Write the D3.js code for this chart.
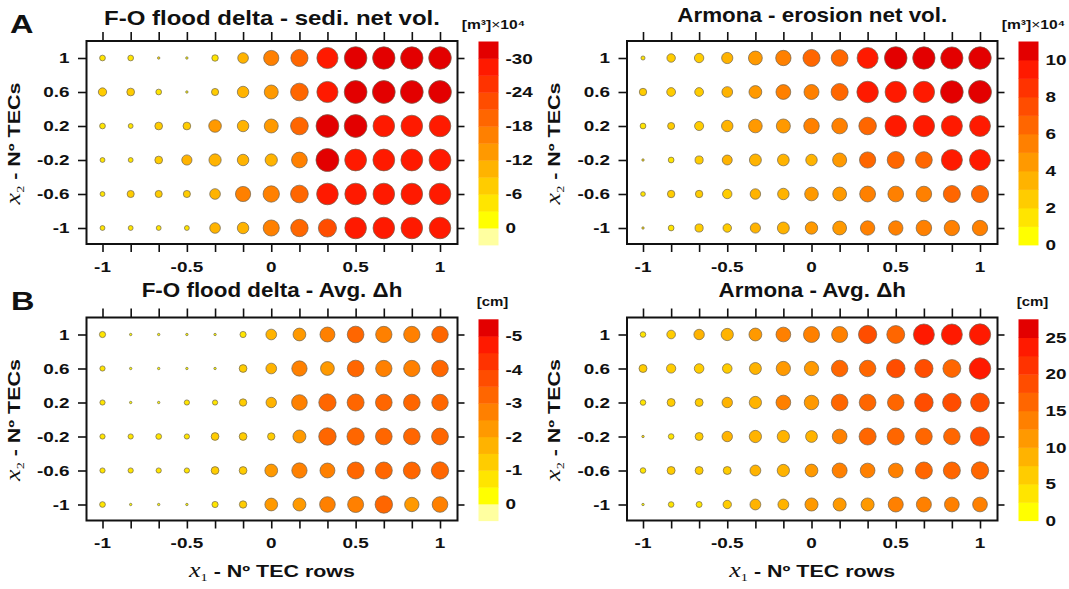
<!DOCTYPE html>
<html>
<head>
<meta charset="utf-8">
<script src="https://cdn.jsdelivr.net/npm/d3@7"></script>
<style>
body { margin: 0; background: #fff; }
text { font-family: "Liberation Sans", Arial, sans-serif; font-weight: bold; fill: #111; }
</style>
</head>
<body>
<div id="fig"></div>
<script>
// grid of the design
var x1 = [-1, -0.833, -0.667, -0.5, -0.333, -0.167, 0, 0.167, 0.333, 0.5, 0.667, 0.833, 1]
var x2 = [1, 0.6, 0.2, -0.2, -0.6, -1]
var xTicks = [-1, -0.5, 0, 0.5, 1]
var yTicks = [1, 0.6, 0.2, -0.2, -0.6, -1]

// rows follow x2 (top to bottom), columns follow x1
var foVol = [
	[-5, -5, -3.5, -2.5, -5.5, -9.5, -16, -19.5, -28, -31.5, -31, -31, -31.5],
	[-7, -6.5, -5, -2.5, -6, -10.5, -14, -20.5, -28, -32, -32, -32, -32],
	[-5, -4.5, -6.5, -6.5, -12, -10.5, -14, -20.5, -32, -32, -29, -29, -29],
	[-4.5, -4.5, -6.5, -9, -11.5, -10.5, -11.5, -17, -32.5, -29.5, -29.5, -29.5, -29.5],
	[-4.5, -6, -6, -6, -9.5, -16, -18, -20.5, -29, -29, -29, -29, -29],
	[-4.5, -4.5, -4.5, -4.5, -9.5, -10.5, -17.5, -20, -21.5, -29, -29, -29, -29]
]
var arVol = [
	[1.5, 2.5, 2.8, 3.5, 4.7, 5.5, 6.5, 6.3, 9.3, 10.5, 10.3, 10.2, 10.4],
	[2.2, 2.6, 2.6, 3.3, 4.2, 5.2, 5.3, 6.5, 9.6, 9.5, 9.5, 10.6, 10.8],
	[1.8, 2.1, 2.7, 3.6, 4.6, 4.8, 5.6, 5.7, 6.8, 9.6, 9.5, 9.3, 9.2],
	[1.2, 1.8, 2.4, 3, 3.8, 3.7, 3.6, 4.8, 6, 6.5, 6.3, 9.3, 9.3],
	[1.6, 2.2, 2.2, 2.8, 3.2, 3.6, 4.6, 4.7, 5.8, 5.7, 5.6, 6.5, 6.6],
	[1.2, 1.8, 2.4, 2.5, 3.1, 3.8, 4, 4.7, 5, 5, 5.6, 5.5, 5.5]
]
var foDh = [
	[-0.9, -0.5, -0.4, -0.3, -0.45, -0.9, -1.6, -2.05, -2.6, -3.1, -3, -3, -3.05],
	[-0.8, -0.45, -0.3, -0.2, -0.4, -1.1, -1.6, -2.7, -2.3, -3.1, -3, -3, -3.1],
	[-0.8, -0.45, -0.45, -0.8, -0.8, -1.05, -1.55, -2.8, -3.3, -3.2, -3.1, -3.1, -3.05],
	[-0.8, -0.8, -0.85, -0.8, -1.1, -1.1, -1.05, -2.1, -3.35, -3.3, -3.1, -3.1, -3.15],
	[-0.8, -0.8, -0.8, -0.8, -1.1, -1.1, -2.05, -2.7, -2.6, -3.2, -3.2, -3.2, -3.3],
	[-0.85, -0.5, -0.5, -0.45, -0.9, -1.05, -2.05, -2.1, -2.8, -2.9, -3.35, -2.45, -2.8]
]
var arDh = [
	[4, 6, 7.6, 9.5, 10.2, 12.6, 14.5, 14.5, 18, 17.4, 23, 23, 23.5],
	[5.5, 6.5, 6.8, 6.8, 9.2, 12, 12, 15.2, 15.2, 18.5, 18, 17.4, 24],
	[4, 5.5, 5.5, 7.6, 9.5, 12.6, 12.3, 15.5, 15.5, 15.2, 18.5, 18.5, 19],
	[2.5, 4, 5.5, 7.6, 9.5, 9.5, 9, 12.6, 16, 16, 15.5, 15.3, 19.5],
	[4, 5.5, 5.5, 5.5, 8, 9.5, 10.1, 13, 12.6, 12.6, 16, 16, 16.5],
	[2.3, 4, 4.2, 5.8, 8, 8, 10.5, 10.5, 10.5, 13, 13, 12.6, 12.6]
]

// colour bar class edges, bottom to top, and their labels
var foVolEdges = [3, 0, -3, -6, -9, -12, -15, -18, -21, -24, -27, -30, -33]
var foVolTicks = [-30, -24, -18, -12, -6, 0]
var arVolEdges = [0, 1, 2, 3, 4, 5, 6, 7, 8, 9, 10, 11]
var arVolTicks = [0, 2, 4, 6, 8, 10]
var foDhEdges = [0.5, 0, -0.5, -1, -1.5, -2, -2.5, -3, -3.5, -4, -4.5, -5, -5.5]
var foDhTicks = [-5, -4, -3, -2, -1, 0]
var arDhEdges = [0, 2.5, 5, 7.5, 10, 12.5, 15, 17.5, 20, 22.5, 25, 27.5]
var arDhTicks = [0, 5, 10, 15, 20, 25]

var warm = ['#ffff00','#ffe500','#ffcc00','#ffb300','#ff9900','#ff8000','#ff6600','#ff4d00','#ff3300','#ff1a00','#e30000']
var pale = '#ffffa0'

var panels = [
	{title: 'F-O flood delta - sedi. net vol.', data: foVol, edges: foVolEdges, ticks: foVolTicks,
	 colors: [pale].concat(warm), unit: 'vol', zero: -3.5, col: 0, row: 0, tb: 25, tsx: 1.2},
	{title: 'Armona - erosion net vol.', data: arVol, edges: arVolEdges, ticks: arVolTicks,
	 colors: warm, unit: 'vol', zero: 1.3, col: 1, row: 0, tb: 22, tsx: 1.12},
	{title: 'F-O flood delta - Avg. \u0394h', data: foDh, edges: foDhEdges, ticks: foDhTicks,
	 colors: [pale].concat(warm), unit: 'cm', zero: -0.6, col: 0, row: 1, tb: 297, tsx: 1.12},
	{title: 'Armona - Avg. \u0394h', data: arDh, edges: arDhEdges, ticks: arDhTicks,
	 colors: warm, unit: 'cm', zero: 2.8, col: 1, row: 1, tb: 297, tsx: 1.12}
]

// layout
var colX = [[86.5, 457.5], [627, 997.5]]
var rowY = [[41, 244], [317.5, 520.5]]
var barY = [[41.5, 245], [319.3, 520.7]]
var R = 11.6, rmin = 1.2
var SX = 1.35, FS = 14

var svg = d3.select('#fig').append('svg')
	.attr('width', 1069)
	.attr('height', 589)

function txt(g, x, y, s, size, sx, anchor, rot){
	return g.append('text')
		.attr('transform', 'translate(' + x + ',' + y + ')' + (rot ? ' rotate(' + rot + ')' : '') + ' scale(' + sx + ',1)')
		.attr('text-anchor', anchor || 'start')
		.style('font-size', size + 'px')
		.text(s)
}

function axisTitle(g, x, y, sub, rest, rot){
	var t = g.append('text')
		.attr('transform', 'translate(' + x + ',' + y + ')' + (rot ? ' rotate(' + rot + ')' : '') + ' scale(1.3,1)')
		.attr('text-anchor', 'middle')
		.style('font-size', '16.5px')
	t.append('tspan').text('x')
		.style('font-family', '"Liberation Serif", "Times New Roman", serif')
		.style('font-style', 'italic').style('font-weight', 'normal').style('font-size', '20px')
	t.append('tspan').text(sub).attr('dy', 4)
		.style('font-family', '"Liberation Serif", "Times New Roman", serif')
		.style('font-weight', 'normal').style('font-size', '11px')
	t.append('tspan').text(rest).attr('dy', -4)
}

function drawPanel(p){
	var fx = colX[p.col], fy = rowY[p.row], by = barY[p.row]
	var g = svg.append('g')
	var x = d3.scaleLinear().domain([-1, 1]).range([fx[0] + 16, fx[1] - 17.5])
	var y = d3.scaleLinear().domain([1, -1]).range([fy[0] + 17, fy[1] - 16])
	var last = p.edges[p.edges.length - 1]
	var nb = p.colors.length
	var pos = d3.scaleLinear().domain([p.edges[0], last]).range([0, nb])
	var area = d3.scaleLinear().domain([p.zero, last]).range([rmin * rmin, R * R]).clamp(true)
	var fill = v => p.colors[Math.max(0, Math.min(nb - 1, Math.floor(pos(v))))]

	// ticks (outside, all four sides)
	var tk = [
		[d3.axisTop(x).tickValues(x1).tickSize(9), 0, fy[0]],
		[d3.axisBottom(x).tickValues(x1).tickSize(8), 0, fy[1]],
		[d3.axisLeft(y).tickValues(x2).tickSize(8.5), fx[0], 0],
		[d3.axisRight(y).tickValues(x2).tickSize(7), fx[1], 0]
	]
	tk.forEach(a => {
		g.append('g').attr('transform', 'translate(' + a[1] + ',' + a[2] + ')')
			.call(a[0].tickFormat(''))
			.call(s => s.select('.domain').remove())
			.selectAll('line').attr('stroke', '#111').attr('stroke-width', 1.6)
	})

	// bubbles
	var cells = []
	p.data.forEach((row, i) => row.forEach((v, j) => cells.push({x: x1[j], y: x2[i], v: v})))
	g.append('g').selectAll('circle').data(cells).enter().append('circle')
		.attr('cx', d => x(d.x))
		.attr('cy', d => y(d.y))
		.attr('r', d => Math.sqrt(area(d.v)))
		.attr('fill', d => fill(d.v))
		.attr('stroke', '#6e6450')
		.attr('stroke-width', 0.7)

	g.append('rect')
		.attr('x', fx[0]).attr('y', fy[0])
		.attr('width', fx[1] - fx[0]).attr('height', fy[1] - fy[0])
		.attr('fill', 'none').attr('stroke', '#111').attr('stroke-width', 2)

	// tick labels
	xTicks.forEach(t => txt(g, x(t), fy[1] + 27.5, t, FS, SX, 'middle'))
	yTicks.forEach(t => txt(g, fx[0] - 17, y(t), t, FS, SX, 'end').attr('dy', '0.36em'))

	txt(g, (fx[0] + fx[1]) / 2, p.tb, p.title, 20, p.tsx, 'middle')
	axisTitle(g, fx[0] - 67, (fy[0] + fy[1]) / 2 + 1, '2', ' - N\u00ba TECs', -90)
	if (p.row === 1) axisTitle(g, (fx[0] + fx[1]) / 2, 577, '1', ' - N\u00ba TEC rows')

	// colour bar
	var bx = fx[1] + 21
	var yb = d3.scaleLinear().domain([p.edges[0], last]).range([by[1], by[0]])
	g.append('g').selectAll('rect').data(d3.pairs(p.edges)).enter().append('rect')
		.attr('x', bx).attr('width', 20)
		.attr('y', d => yb(d[1]))
		.attr('height', d => yb(d[0]) - yb(d[1]) + 0.4)
		.attr('fill', (d, i) => p.colors[i])
	p.ticks.forEach(t => txt(g, bx + 27, yb(t), t, FS, SX, 'start').attr('dy', '0.36em'))

	var ux = bx + 15, uy = by[0] - 13
	if (p.unit === 'vol') {
		var u = g.append('text')
			.attr('transform', 'translate(' + ux + ',' + uy + ') scale(1.25,1)')
			.attr('text-anchor', 'middle').style('font-size', '12.5px')
		u.append('tspan').text('[m\u00b3]')
		u.append('tspan').text('\u00d7').style('font-weight', 'normal')
		u.append('tspan').text('10\u2074')
	} else {
		txt(g, ux - 1, uy, '[cm]', 12.5, 1.2, 'middle')
	}
}

panels.forEach(drawPanel)

txt(svg, 10, 33, 'A', 26, 1.25, 'start')
txt(svg, 11, 310, 'B', 26, 1.25, 'start')
</script>
</body>
</html>
